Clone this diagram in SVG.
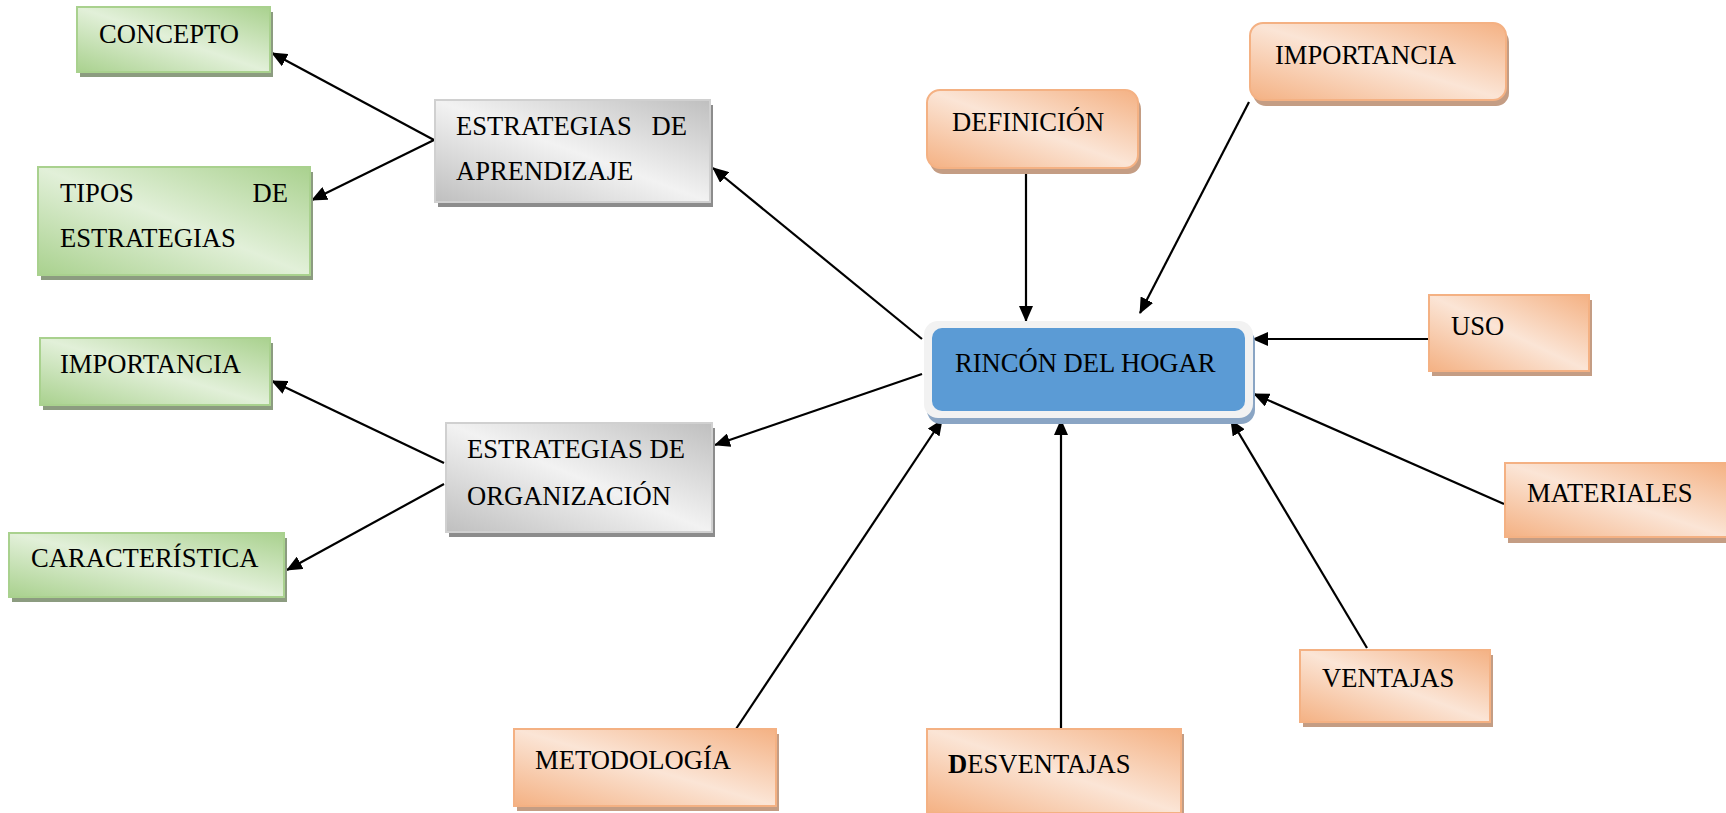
<svg xmlns="http://www.w3.org/2000/svg" width="1726" height="813" viewBox="0 0 1726 813">
<defs>
<linearGradient id="gG" x1="0" y1="1" x2="1" y2="0"><stop offset="0" stop-color="#a9d18e"/><stop offset="0.5" stop-color="#e2f0d9"/><stop offset="1" stop-color="#a9d18e"/></linearGradient>
<linearGradient id="gO" x1="0" y1="1" x2="1" y2="0"><stop offset="0" stop-color="#f4b183"/><stop offset="0.5" stop-color="#fbe5d6"/><stop offset="1" stop-color="#f4b183"/></linearGradient>
<linearGradient id="gS" x1="0" y1="1" x2="1" y2="0"><stop offset="0" stop-color="#bfbfbf"/><stop offset="0.5" stop-color="#f2f2f2"/><stop offset="1" stop-color="#bfbfbf"/></linearGradient>
<marker id="ah" markerUnits="userSpaceOnUse" markerWidth="16" markerHeight="14" refX="15" refY="7" orient="auto"><path d="M0,0 L16,7 L0,14 z" fill="#000"/></marker>
</defs>
<style>
text{font-family:"Liberation Serif","Times New Roman",serif;font-size:26.6px;fill:#000}
.g{fill:url(#gG);stroke:#a9d18e;stroke-width:2}
.gs{fill:#8c9c80}
.o{fill:url(#gO);stroke:#f4b183;stroke-width:2}
.os{fill:#c49d84}
.s{fill:url(#gS);stroke:#d0d0d0;stroke-width:2}
.ss{fill:#8c8c8c}
.c line{stroke:#000;stroke-width:2.2;marker-end:url(#ah)}
</style>
<rect width="1726" height="813" fill="#fff"/>
<g class="c">
<line x1="434" y1="140" x2="272" y2="53"/>
<line x1="434" y1="140" x2="312" y2="200"/>
<line x1="444" y1="463" x2="272" y2="381"/>
<line x1="444" y1="484" x2="287" y2="570"/>
<line x1="922" y1="339" x2="713" y2="168"/>
<line x1="922" y1="374" x2="715" y2="445"/>
<line x1="1026" y1="168" x2="1026" y2="321"/>
<line x1="1249" y1="102" x2="1140" y2="313"/>
<line x1="1428" y1="339" x2="1253" y2="339"/>
<line x1="1504" y1="504" x2="1254" y2="394"/>
<line x1="1367" y1="648" x2="1231" y2="420"/>
<line x1="1061" y1="729" x2="1061" y2="420"/>
<line x1="736" y1="729" x2="942" y2="420"/>
</g>
<g id="concepto"><rect class="gs" x="80" y="12" width="193" height="65"/><rect class="g" x="77" y="7" width="193" height="65"/><text x="99" y="43">CONCEPTO</text></g>
<g id="tipos"><rect class="gs" x="41" y="172" width="272" height="108"/><rect class="g" x="38" y="167" width="272" height="108"/><text x="60" y="202">TIPOS</text><text x="288" y="202" text-anchor="end">DE</text><text x="60" y="247">ESTRATEGIAS</text></g>
<g id="aprendizaje"><rect class="ss" x="438" y="105" width="275" height="102"/><rect class="s" x="435" y="100" width="275" height="102"/><text x="456" y="135">ESTRATEGIAS</text><text x="687" y="135" text-anchor="end">DE</text><text x="456" y="180">APRENDIZAJE</text></g>
<g id="importancia-g"><rect class="gs" x="43" y="343" width="230" height="67"/><rect class="g" x="40" y="338" width="230" height="67"/><text x="60" y="373">IMPORTANCIA</text></g>
<g id="caracteristica"><rect class="gs" x="12" y="538" width="275" height="64"/><rect class="g" x="9" y="533" width="275" height="64"/><text x="31" y="567">CARACTERÍSTICA</text></g>
<g id="organizacion"><rect class="ss" x="449" y="428" width="266" height="109"/><rect class="s" x="446" y="423" width="266" height="109"/><text x="467" y="458">ESTRATEGIAS DE</text><text x="467" y="505">ORGANIZACIÓN</text></g>
<g id="rincon"><rect x="927" y="328" width="328" height="96" rx="14" fill="#8aa5c4"/><rect x="924" y="321" width="329" height="97" rx="14" fill="#f2f2f2"/><rect x="932" y="328" width="313" height="83" rx="10" fill="#5b9bd5"/><text x="955" y="372">RINCÓN DEL HOGAR</text></g>
<g id="definicion"><rect class="os" x="930" y="96" width="211" height="78" rx="13"/><rect class="o" x="927" y="90" width="211" height="78" rx="13"/><text x="952" y="131">DEFINICIÓN</text></g>
<g id="importancia-o"><rect class="os" x="1253" y="29" width="256" height="77" rx="13"/><rect class="o" x="1250" y="23" width="256" height="77" rx="13"/><text x="1275" y="64">IMPORTANCIA</text></g>
<g id="uso"><rect class="os" x="1432" y="300" width="160" height="76"/><rect class="o" x="1429" y="295" width="160" height="76"/><text x="1451" y="335">USO</text></g>
<g id="materiales"><rect class="os" x="1508" y="468" width="222" height="75"/><rect class="o" x="1505" y="463" width="222" height="74"/><text x="1527" y="502">MATERIALES</text></g>
<g id="ventajas"><rect class="os" x="1303" y="655" width="190" height="72"/><rect class="o" x="1300" y="650" width="190" height="72"/><text x="1322" y="687">VENTAJAS</text></g>
<g id="desventajas"><rect class="os" x="930" y="734" width="254" height="84"/><rect class="o" x="927" y="729" width="254" height="84"/><text x="948" y="773"><tspan font-weight="bold">D</tspan>ESVENTAJAS</text></g>
<g id="metodologia"><rect class="os" x="517" y="734" width="262" height="77"/><rect class="o" x="514" y="729" width="262" height="77"/><text x="535" y="769">METODOLOGÍA</text></g>
</svg>
